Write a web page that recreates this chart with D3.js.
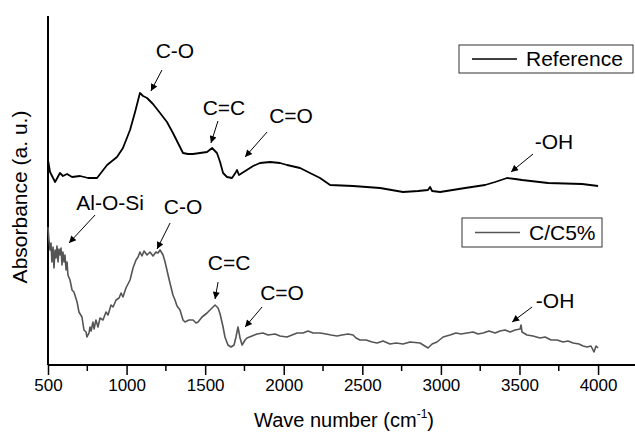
<!DOCTYPE html>
<html>
<head>
<meta charset="utf-8">
<script src="https://cdn.jsdelivr.net/npm/d3@7"></script>
<style>
  body { margin: 0; background: #fff; }
  text { font-family: Arial, "Liberation Sans", sans-serif; }
</style>
</head>
<body>
<svg id="chart" width="635" height="436"></svg>
<script>
// Reference spectrum (wave number, absorbance a.u.)
const refWave = [500, 513, 545, 576, 595, 621, 653, 704, 755, 812, 876, 939, 977, 1022, 1054, 1085, 1105, 1130, 1168, 1213, 1257, 1295, 1327, 1359, 1391, 1423, 1467, 1512, 1544, 1575, 1595, 1614, 1639, 1671, 1696, 1703, 1715, 1735, 1805, 1849, 1913, 1976, 2021, 2104, 2167, 2231, 2295, 2441, 2613, 2759, 2855, 2918, 2931, 2944, 2995, 3154, 3281, 3345, 3421, 3472, 3516, 3682, 3898, 4000];
const refAbs = [205, 193, 183, 192, 189, 191, 188, 189, 187, 187, 200, 208, 217, 235, 253, 272, 269, 267, 261, 252, 243, 232, 222, 212, 211, 211, 212, 213, 217, 212, 203, 192, 188, 187, 193, 195, 190, 192, 199, 202, 203, 202, 200, 197, 192, 187, 180, 179, 177, 173, 174, 175, 178, 174, 173, 177, 180, 183, 187, 186, 185, 182, 181, 179];

// C/C5% spectrum
const ccWave = [500, 506, 513, 519, 525, 532, 538, 545, 551, 557, 564, 570, 576, 583, 589, 595, 602, 608, 615, 621, 627, 640, 653, 665, 685, 697, 716, 729, 742, 748, 761, 767, 774, 786, 793, 805, 818, 831, 850, 869, 882, 901, 914, 933, 952, 965, 977, 996, 1022, 1041, 1060, 1073, 1085, 1098, 1111, 1130, 1149, 1168, 1187, 1200, 1213, 1232, 1245, 1264, 1276, 1295, 1308, 1321, 1340, 1359, 1372, 1397, 1423, 1442, 1455, 1480, 1512, 1537, 1563, 1582, 1595, 1614, 1626, 1645, 1665, 1684, 1696, 1709, 1722, 1735, 1754, 1766, 1798, 1830, 1868, 1900, 1945, 1976, 2021, 2053, 2085, 2123, 2155, 2186, 2231, 2269, 2301, 2339, 2371, 2409, 2441, 2460, 2485, 2524, 2562, 2594, 2632, 2676, 2715, 2759, 2804, 2867, 2918, 2944, 2975, 3014, 3058, 3096, 3128, 3166, 3205, 3236, 3268, 3306, 3345, 3376, 3408, 3440, 3472, 3504, 3510, 3516, 3548, 3586, 3631, 3663, 3701, 3739, 3777, 3809, 3841, 3879, 3905, 3930, 3955, 3974, 3987, 4000];
const ccAbs = [138, 125, 115, 122, 103, 118, 97, 115, 107, 119, 103, 116, 110, 117, 100, 113, 103, 110, 95, 103, 90, 85, 75, 73, 63, 53, 48, 35, 33, 28, 32, 38, 34, 43, 36, 45, 38, 47, 45, 53, 50, 60, 58, 65, 67, 72, 68, 77, 85, 97, 105, 108, 113, 109, 114, 110, 113, 109, 113, 112, 115, 110, 103, 90, 82, 70, 65, 59, 55, 45, 43, 45, 45, 42, 43, 48, 52, 56, 60, 57, 51, 38, 28, 20, 18, 20, 28, 38, 27, 20, 25, 27, 29, 31, 32, 30, 31, 29, 28, 30, 32, 32, 34, 32, 32, 31, 30, 29, 30, 31, 30, 27, 25, 25, 23, 22, 24, 21, 22, 21, 23, 22, 17, 21, 23, 28, 30, 32, 31, 32, 33, 31, 32, 34, 32, 34, 35, 33, 35, 36, 40, 33, 30, 29, 27, 28, 25, 25, 23, 24, 22, 21, 19, 18, 19, 13, 19, 17];

const seriesNames = ["Reference", "C/C5%"];
const xTickValues = [500, 1000, 1500, 2000, 2500, 3000, 3500, 4000];
const xMinorTicks = [750, 1250, 1750, 2250, 2750, 3250, 3750, 4250];

// peak labels: [label, wave number, absorbance] of the arrow tip
const refPeaks = [["C-O", 1155, 274], ["C=C", 1537, 222], ["C=O", 1754, 208], ["-OH", 3446, 193]];
const ccPeaks = [["Al-O-Si", 634, 122], ["C-O", 1194, 116], ["C=C", 1563, 66], ["C=O", 1754, 38], ["-OH", 3453, 43]];

// label layout (px offsets from the tip): tail dx, dy, text dx, dy
const refPeakLayout = [[11, -21, 24, -33], [7, -22, 13, -28], [22, -25, 46, -34], [22, -18, 43, -23]];
const ccPeakLayout = [[26, -28, 41, -33], [13, -26, 26, -35], [3, -17, 14, -29], [17, -20, 37, -27], [20, -15, 43, -14]];

const svg = d3.select("#chart");

const x = d3.scaleLinear().domain([500, 4235]).range([48, 635]);
const y = d3.scaleLinear().domain([0, 349]).range([365, 16]);

// arrow head
svg
  .append("defs")
  .append("marker")
  .attr("id", "arrow")
  .attr("viewBox", "0 0 10 10")
  .attr("refX", 10)
  .attr("refY", 5)
  .attr("markerWidth", 9)
  .attr("markerHeight", 7)
  .attr("markerUnits", "userSpaceOnUse")
  .attr("orient", "auto")
  .append("path")
  .attr("d", "M0,0 L10,5 L0,10 Z")
  .attr("fill", "#000");

// Axes
svg
  .append("g")
  .attr("class", "x-axis")
  .attr("transform", "translate(0,365)")
  .call(
    d3.axisBottom(x).tickValues(xTickValues).tickFormat(d3.format("d")).tickSize(10).tickSizeOuter(0).tickPadding(4)
  )
  .call((g) => g.select(".domain").attr("stroke-width", 2).attr("d", "M48,0H635"))
  .call((g) => g.selectAll(".tick line").attr("stroke-width", 1.5))
  .call((g) =>
    g.selectAll(".tick text").attr("font-size", 17).attr("font-family", "Arial, 'Liberation Sans', sans-serif").attr("fill", "#000")
  );

svg
  .append("g")
  .attr("class", "x-minor")
  .selectAll("line")
  .data(xMinorTicks)
  .enter()
  .append("line")
  .attr("x1", (d) => x(d))
  .attr("x2", (d) => x(d))
  .attr("y1", 365)
  .attr("y2", 371)
  .attr("stroke", "#000")
  .attr("stroke-width", 1.5);

svg
  .append("line")
  .attr("x1", 48)
  .attr("x2", 48)
  .attr("y1", y(349))
  .attr("y2", y(0))
  .attr("stroke", "#000")
  .attr("stroke-width", 2);

// Axis titles
const xTitle = svg
  .append("text")
  .attr("x", 344)
  .attr("y", 427)
  .attr("font-size", 20)
  .attr("text-anchor", "middle")
  .attr("fill", "#000");
xTitle.append("tspan").text("Wave number (cm");
xTitle.append("tspan").attr("font-size", 12).attr("dy", -9).text("-1");
xTitle.append("tspan").attr("dy", 9).text(")");

svg
  .append("text")
  .attr("transform", "translate(27,197) rotate(-90)")
  .attr("font-size", 21)
  .attr("text-anchor", "middle")
  .attr("fill", "#000")
  .text("Absorbance (a. u.)");

// Spectra
const line = d3
  .line()
  .x((d) => x(d[0]))
  .y((d) => y(d[1]));

svg
  .append("path")
  .datum(d3.zip(refWave, refAbs))
  .attr("fill", "none")
  .attr("stroke", "#000")
  .attr("stroke-width", 1.8)
  .attr("stroke-linejoin", "round")
  .attr("d", line);

svg
  .append("path")
  .datum(d3.zip(ccWave, ccAbs))
  .attr("fill", "none")
  .attr("stroke", "#555")
  .attr("stroke-width", 1.6)
  .attr("stroke-linejoin", "round")
  .attr("d", line);

// Peak labels
function drawPeaks(peaks, layout) {
  peaks.forEach((p, i) => {
    const tx = x(p[1]);
    const ty = y(p[2]);
    const l = layout[i];
    svg
      .append("line")
      .attr("x1", tx + l[0])
      .attr("y1", ty + l[1])
      .attr("x2", tx)
      .attr("y2", ty)
      .attr("stroke", "#000")
      .attr("stroke-width", 1)
      .attr("marker-end", "url(#arrow)");
    svg
      .append("text")
      .attr("x", tx + l[2])
      .attr("y", ty + l[3])
      .attr("font-size", 21)
      .attr("text-anchor", "middle")
      .attr("fill", "#000")
      .text(p[0]);
  });
}
drawPeaks(refPeaks, refPeakLayout);
drawPeaks(ccPeaks, ccPeakLayout);

// Legends
const legendBoxes = [
  { x: 459, y: 45, w: 174, h: 28, stroke: "#000" },
  { x: 462, y: 218, w: 140, h: 29, stroke: "#555" },
];
legendBoxes.forEach((b, i) => {
  svg
    .append("rect")
    .attr("x", b.x)
    .attr("y", b.y)
    .attr("width", b.w)
    .attr("height", b.h)
    .attr("fill", "#fff")
    .attr("stroke", "#333")
    .attr("stroke-width", 1);
  svg
    .append("line")
    .attr("x1", b.x + 13)
    .attr("x2", b.x + 58)
    .attr("y1", b.y + b.h / 2)
    .attr("y2", b.y + b.h / 2)
    .attr("stroke", b.stroke)
    .attr("stroke-width", 1.7);
  svg
    .append("text")
    .attr("x", b.x + 67)
    .attr("y", b.y + b.h / 2 + 7)
    .attr("font-size", 21)
    .attr("fill", "#000")
    .text(seriesNames[i]);
});
</script>
</body>
</html>
